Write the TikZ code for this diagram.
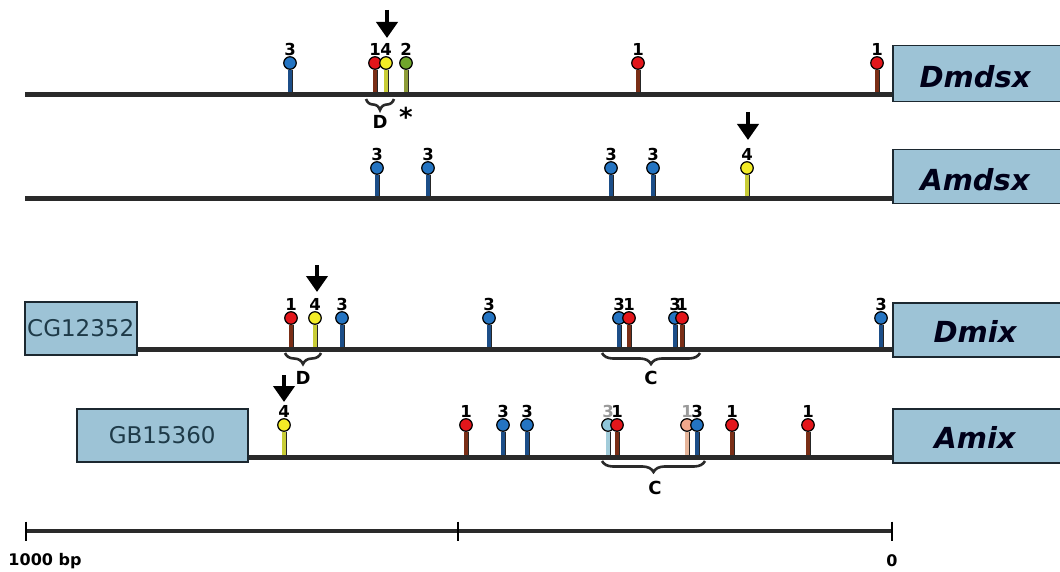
\documentclass[tikz,border=0pt]{standalone}
\usepackage{fontspec}
\setmainfont{DejaVu Sans}
\usetikzlibrary{arrows.meta,decorations.pathreplacing}

\definecolor{boxblue}{HTML}{9DC3D6}
\definecolor{boxline}{HTML}{1C2830}
\definecolor{boxtext}{HTML}{1E3A48}
\definecolor{bbone}{HTML}{2A2A2A}
\definecolor{pinred}{HTML}{E3161B}
\definecolor{stemred}{HTML}{7A2E16}
\definecolor{pinyel}{HTML}{F3EC26}
\definecolor{stemyel}{HTML}{C8CC36}
\definecolor{pinblu}{HTML}{2474C2}
\definecolor{stemblu}{HTML}{1C4E88}
\definecolor{pingrn}{HTML}{70A62C}
\definecolor{stemgrn}{HTML}{8E9C38}
\definecolor{pinlbl}{HTML}{8FC6DA}
\definecolor{stemlbl}{HTML}{A2CCDA}
\definecolor{pinsal}{HTML}{F0A88C}
\definecolor{stemsal}{HTML}{E6B59A}
\definecolor{faded}{HTML}{9A9A9A}

\tikzset{
  backbone/.style={draw=bbone, line width=5pt},
  genebox/.style={draw=boxline, line width=1.5pt, fill=boxblue, inner sep=0pt, anchor=north west},
  genename/.style={font=\fontsize{29}{29}\selectfont\bfseries\itshape, text=black!90!blue},
  cgname/.style={font=\fontsize{23}{23}\selectfont, text=boxtext},
  pinhead/.style={circle, draw=black, line width=1.2pt, fill=#1, minimum size=12.5pt,
    inner sep=0pt, label distance=2pt},
  pinstem/.style={draw=black!85, line width=0.9pt, double=#1, double distance=3.2pt},
  pinlabel/.style={font=\fontsize{16.5}{16.5}\selectfont\bfseries, inner sep=0pt},
  bigarrow/.style={draw=black, line width=4pt, -{Triangle[width=21pt,length=16pt]}},
  underbrace/.style={draw=bbone, line width=2.6pt, decorate,
    decoration={brace, mirror, amplitude=11pt}},
  bracelabel/.style={font=\fontsize{18}{18}\selectfont\bfseries, inner sep=0pt},
  scaleline/.style={draw=bbone, line width=3.5pt},
  scaletick/.style={draw=black, line width=2.5pt},
  scalelabel/.style={font=\fontsize{16}{16}\selectfont\bfseries, inner sep=0pt}
}

\begin{document}
\begin{tikzpicture}[x=1pt,y=-1pt]
  \clip (0,0) rectangle (1060,572);

  % gene boxes
  \node[genebox, minimum width=180pt, minimum height=56pt] (dmdsxbox) at (892,45) {};
  \node[genename] (dmdsx) at (975,77) {Dmdsx};
  \node[genebox, minimum width=180pt, minimum height=54pt] (amdsxbox) at (892,149) {};
  \node[genename] (amdsx) at (975,180) {Amdsx};
  \node[genebox, minimum width=180pt, minimum height=54pt] (dmixbox) at (892,302) {};
  \node[genename] (dmix) at (975,331) {Dmix};
  \node[genebox, minimum width=180pt, minimum height=54pt] (amixbox) at (892,408) {};
  \node[genename] (amix) at (975,437) {Amix};
  \node[genebox, cgname, minimum width=112pt, minimum height=53pt] (cg) at (24,301) {CG12352};
  \node[genebox, cgname, minimum width=171pt, minimum height=53pt] (gb) at (76,408) {GB15360};

  % sites: x / colour / class / label colour
  \foreach \x/\k/\n/\t in {290/blu/3/black, 375/red/1/black, 386/yel/4/black,
      406/grn/2/black, 638/red/1/black, 877/red/1/black}{
    \coordinate (f1-\x) at (\x,95);
    \node[pinhead=pin\k, label={[pinlabel,text=\t]above:\n}] (h1-\x) at (\x,63) {};
    \draw[pinstem=stem\k] (f1-\x) -- (h1-\x);
  }
  \foreach \x/\k/\n/\t in {377/blu/3/black, 428/blu/3/black, 611/blu/3/black,
      653/blu/3/black, 747/yel/4/black}{
    \coordinate (f2-\x) at (\x,199);
    \node[pinhead=pin\k, label={[pinlabel,text=\t]above:\n}] (h2-\x) at (\x,168) {};
    \draw[pinstem=stem\k] (f2-\x) -- (h2-\x);
  }
  \foreach \x/\k/\n/\t in {291/red/1/black, 315/yel/4/black, 342/blu/3/black,
      489/blu/3/black, 619/blu/3/black, 629/red/1/black, 675/blu/3/black,
      682/red/1/black, 881/blu/3/black}{
    \coordinate (f3-\x) at (\x,349);
    \node[pinhead=pin\k, label={[pinlabel,text=\t]above:\n}] (h3-\x) at (\x,318) {};
    \draw[pinstem=stem\k] (f3-\x) -- (h3-\x);
  }
  \foreach \x/\k/\n/\t in {284/yel/4/black, 466/red/1/black, 503/blu/3/black,
      527/blu/3/black, 608/lbl/3/faded, 617/red/1/black, 687/sal/1/faded,
      697/blu/3/black, 732/red/1/black, 808/red/1/black}{
    \coordinate (f4-\x) at (\x,457);
    \node[pinhead=pin\k, label={[pinlabel,text=\t]above:\n}] (h4-\x) at (\x,425) {};
    \draw[pinstem=stem\k] (f4-\x) -- (h4-\x);
  }

  % backbones
  \coordinate (l1) at (25,95);
  \coordinate (l2) at (25,199);
  \coordinate (l3) at (0,349);
  \coordinate (l4) at (0,457);
  \draw[backbone] (l1) -- (l1 -| dmdsxbox.west);
  \draw[backbone] (l2) -- (l2 -| amdsxbox.west);
  \draw[backbone] (l3 -| cg.east) -- (l3 -| dmixbox.west);
  \draw[backbone] (l4 -| gb.east) -- (l4 -| amixbox.west);

  % arrows over the marked sites
  \coordinate (k1) at (387,10);  \coordinate (t1) at (387,38);
  \coordinate (k2) at (748,112); \coordinate (t2) at (748,140);
  \coordinate (k3) at (317,265); \coordinate (t3) at (317,292);
  \coordinate (k4) at (284,375); \coordinate (t4) at (284,402);
  \foreach \i in {1,...,4}
    \draw[bigarrow] (k\i) -- (t\i);

  % clusters
  \draw[underbrace] (366,99) -- (394,99);
  \node[bracelabel] (d1) at (380,122) {D};
  \node[bracelabel, font=\fontsize{26}{26}\selectfont\bfseries] (star) at (406,117) {*};
  \draw[underbrace] (285,353) -- (321,353);
  \node[bracelabel] (d3) at (303,378) {D};
  \draw[underbrace] (602,353) -- (700,353);
  \node[bracelabel] (c3) at (651,378) {C};
  \draw[underbrace] (602,461) -- (705,461);
  \node[bracelabel] (c4) at (655,488) {C};

  % scale
  \coordinate (sb0) at (26,531);
  \coordinate (sb1) at (458,531);
  \coordinate (sb2) at (892,531);
  \draw[scaleline] (sb0) -- (sb2);
  \foreach \s in {sb0,sb1,sb2}
    \draw[scaletick] ([yshift=9.5pt]\s) -- ([yshift=-9.5pt]\s);
  \node[scalelabel] (bp1000) at (45,561) {1000 bp};
  \node[scalelabel] (bp0) at (892,561) {0};
\end{tikzpicture}
\end{document}
